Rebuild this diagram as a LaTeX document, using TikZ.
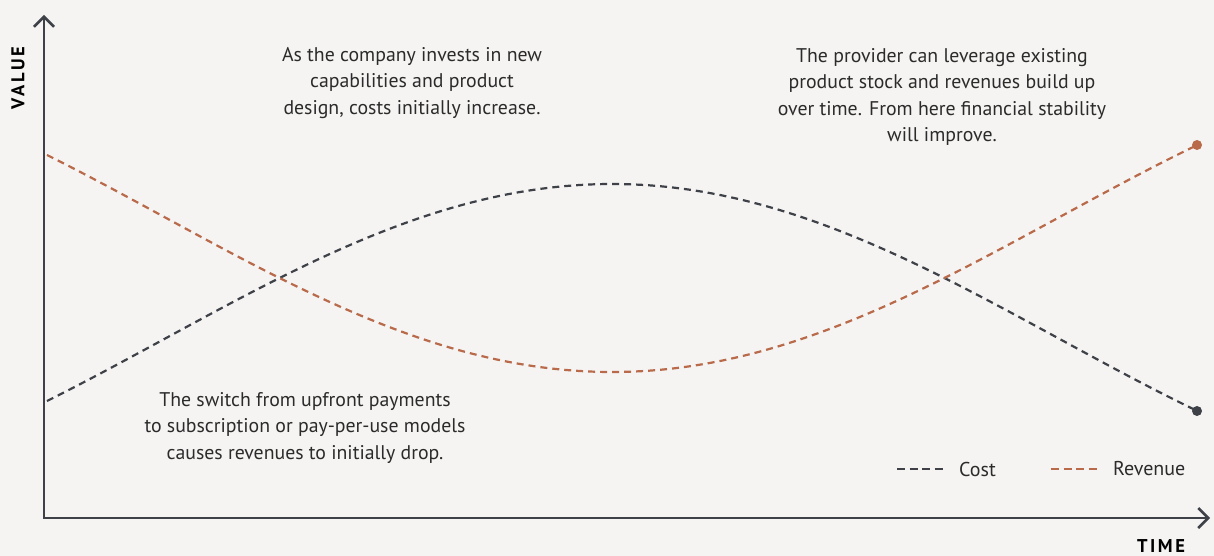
\documentclass[tikz,border=0pt]{standalone}
\usepackage{fontspec}
\setmainfont{PT Sans}
\usetikzlibrary{arrows.meta}
\definecolor{bg}{HTML}{F5F4F2}
\definecolor{costc}{HTML}{3E4248}
\definecolor{revc}{HTML}{B86A4B}
\definecolor{txt}{HTML}{2B2B2B}
\tikzset{
  axis/.style={draw=costc, line width=2.5pt, {Straight Barb[length=10pt,width=20pt]}-{Straight Barb[length=10pt,width=20pt]}},
  curve/.style={line width=2.2pt, dash pattern=on 7pt off 5pt},
  note/.style={align=center, text=txt, inner sep=0pt, font=\fontsize{19.8}{26.6}\selectfont},
  legtext/.style={anchor=west, text=txt, inner sep=0pt, font=\fontsize{20}{22}\selectfont},
  axlabel/.style={text=black, inner sep=0pt, font=\fontsize{18.5}{22}\selectfont\bfseries\addfontfeature{LetterSpace=14}},
  enddot/.style={circle, inner sep=0pt, minimum size=10pt}
}
\begin{document}
\begin{tikzpicture}[x=1pt,y=-1pt]
\fill[bg] (0,0) rectangle (1214,556);
\useasboundingbox (0,0) rectangle (1214,556);
% axes
\coordinate (Ytop) at (44,15);
\coordinate (O) at (44,518);
\coordinate (Xend) at (1210,518);
\draw[axis] (Ytop) -- (O) -- (Xend);
\node[axlabel, rotate=90] (ylab) at (18,78) {VALUE};
\node[axlabel, anchor=base] (xlab) at (1161,552) {TIME};
% curves
\draw[curve, costc] plot[domain=47:1197, samples=150] (\x, {184+155*(1-cos(deg((\x-612)/285)))});
\draw[curve, revc] plot[domain=47:1197, samples=150] (\x, {372-155*(1-cos(deg((\x-612)/285)))});
\node[enddot, fill=costc] (costend) at (1197,411) {};
\node[enddot, fill=revc] (revend) at (1197,145) {};
% notes
\node[note] (n1) at (412,83) {As the company invests in new\\capabilities and product\\design, costs initially increase.};
\node[note] (n2) at (942,97) {The provider can leverage existing\\product stock and revenues build up\\over time. From here financial stability\\will improve.};
\node[note] (n3) at (305,428) {The switch from upfront payments\\to subscription or pay-per-use models\\causes revenues to initially drop.};
% legend
\coordinate (lc1) at (897,469);
\coordinate (lc2) at (943,469);
\draw[curve, costc, dash pattern=on 8pt off 4.5pt] (lc1) -- (lc2);
\node[legtext] (lcost) at (959,469) {Cost};
\coordinate (lr1) at (1051,469);
\coordinate (lr2) at (1097,469);
\draw[curve, revc, dash pattern=on 8pt off 4.5pt] (lr1) -- (lr2);
\node[legtext] (lrev) at (1113,469) {Revenue};
\end{tikzpicture}
\end{document}
